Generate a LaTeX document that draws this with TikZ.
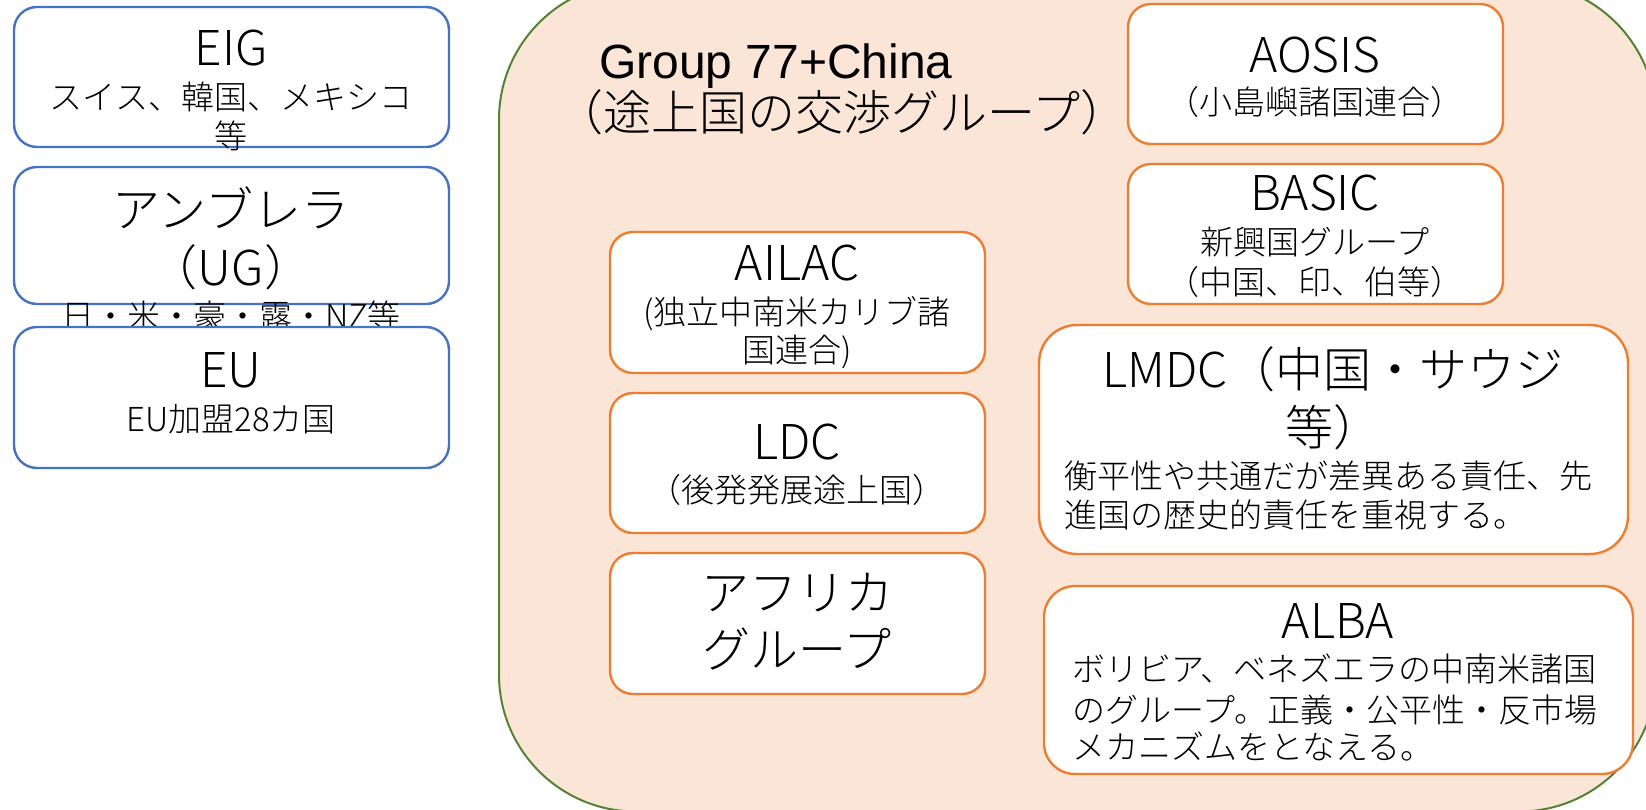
\documentclass[tikz,border=0pt]{standalone}
\usepackage{fontspec}
\setmainfont{Noto Sans CJK JP Light}
\newfontfamily\arialf{Liberation Sans}
\definecolor{boxblue}{HTML}{4472C4}
\definecolor{boxorange}{HTML}{ED7D31}
\definecolor{grpgreen}{HTML}{548235}
\definecolor{grpfill}{HTML}{FBE5D6}
\tikzset{
  blbox/.style={draw=boxblue, line width=2.4pt, rounded corners=23pt, fill=white, inner sep=0pt},
  orbox/.style={draw=boxorange, line width=2.4pt, rounded corners=23pt, fill=white, inner sep=0pt},
  ttl/.style={inner sep=0pt, anchor=base, font=\fontsize{48}{58}\selectfont},
  sml/.style={inner sep=0pt, anchor=base, font=\fontsize{33}{39}\selectfont},
  smll/.style={inner sep=0pt, anchor=base west, font=\fontsize{33}{39}\selectfont},
}
\begin{document}
\begin{tikzpicture}[x=1pt,y=-1pt]
\useasboundingbox (0,0) rectangle (1646,809);
% big group
\node[draw=grpgreen, line width=2pt, fill=grpfill, rounded corners=137pt, minimum width=1157pt, minimum height=829pt, inner sep=0pt] (g77) at (1077.5,397) {};
\node[inner sep=0pt, anchor=base west, font=\arialf\fontsize{48}{58}\selectfont] (g77a) at (599,78) {Group 77+China};
\node[ttl] (g77b) at (842,130) {（途上国の交渉グループ）};

% left blue boxes
\node[blbox, minimum width=435pt, minimum height=140pt] (eig) at (231.5,77) {};
\node[ttl] (eigT) at (231,65) {EIG};
\node[sml] (eigS1) at (231,109) {スイス、韓国、メキシコ};
\node[sml] (eigS2) at (231,148) {等};

\node[blbox, minimum width=435pt, minimum height=137pt] (ug) at (231.5,235.5) {};
\node[ttl] (ugT1) at (231,227) {アンブレラ};
\node[ttl] (ugT2) at (231,285) {（UG）};
\node[sml] (ugS) at (231,328) {日・米・豪・露・NZ等};

\node[blbox, minimum width=435pt, minimum height=141pt] (eu) at (231.5,397.5) {};
\node[ttl] (euT) at (231,387) {EU};
\node[sml] (euS) at (231,431) {EU加盟28カ国};

% orange boxes
\node[orbox, minimum width=375pt, minimum height=140pt] (aosis) at (1315.5,74) {};
\node[ttl] (aosisT) at (1315,72) {AOSIS};
\node[sml] (aosisS) at (1315,114) {（小島嶼諸国連合）};

\node[orbox, minimum width=375pt, minimum height=140pt] (basic) at (1315.5,234) {};
\node[ttl] (basicT) at (1315,210) {BASIC};
\node[sml] (basicS1) at (1315,254) {新興国グループ};
\node[sml] (basicS2) at (1315,294) {（中国、印、伯等）};

\node[orbox, minimum width=375pt, minimum height=141pt] (ailac) at (797.5,302.5) {};
\node[ttl] (ailacT) at (797,280) {AILAC};
\node[sml] (ailacS1) at (797,324) {(独立中南米カリブ諸};
\node[sml] (ailacS2) at (797,362) {国連合)};

\node[orbox, minimum width=375pt, minimum height=140pt] (ldc) at (797.5,463) {};
\node[ttl] (ldcT) at (797,459) {LDC};
\node[sml] (ldcS) at (797,502) {（後発発展途上国）};

\node[orbox, minimum width=375pt, minimum height=141pt] (afr) at (797.5,623.5) {};
\node[ttl] (afrT1) at (797,610) {アフリカ};
\node[ttl] (afrT2) at (797,667) {グループ};

\node[orbox, rounded corners=38pt, minimum width=589pt, minimum height=229pt] (lmdc) at (1333.5,439.5) {};
\node[ttl] (lmdcT1) at (1333,387) {LMDC（中国・サウジ};
\node[ttl] (lmdcT2) at (1333,445) {等）};
\node[smll] (lmdcS1) at (1064,488) {衡平性や共通だが差異ある責任、先};
\node[smll] (lmdcS2) at (1064,527) {進国の歴史的責任を重視する。};

\node[orbox, rounded corners=31pt, minimum width=589pt, minimum height=188pt] (alba) at (1338.5,680) {};
\node[ttl] (albaT) at (1338,638) {ALBA};
\node[smll] (albaS1) at (1072,681) {ボリビア、ベネズエラの中南米諸国};
\node[smll] (albaS2) at (1072,722) {のグループ。正義・公平性・反市場};
\node[smll] (albaS3) at (1072,759) {メカニズムをとなえる。};
\end{tikzpicture}
\end{document}
